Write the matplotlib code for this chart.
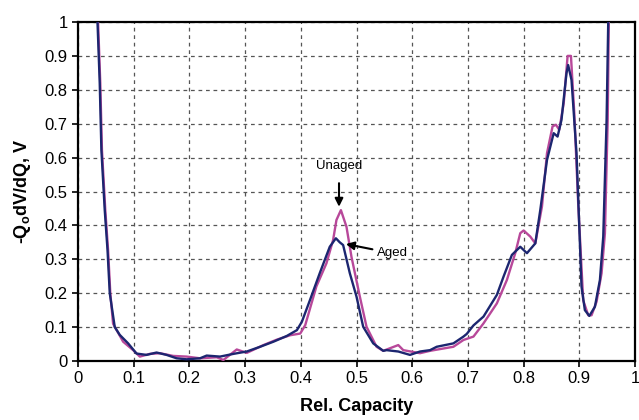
import numpy as np
import matplotlib
matplotlib.use("Agg")
import matplotlib.pyplot as plt

plt.rcParams['font.family'] = ['Liberation Sans', 'DejaVu Sans']
plt.rcParams['mathtext.default'] = 'regular'

# Aged cell (navy)
aged_x = [0.0350, 0.0390, 0.0420, 0.0480, 0.0530, 0.0570, 0.0660, 0.0750, 0.0900,
          0.1050, 0.1230, 0.1410, 0.1590, 0.1770, 0.1950, 0.2190, 0.2310, 0.2550,
          0.2790, 0.3030, 0.3270, 0.3510, 0.3750, 0.3930, 0.4020, 0.4165, 0.4340,
          0.4520, 0.4630, 0.4700, 0.4760, 0.4880, 0.5000, 0.5120, 0.5300, 0.5480,
          0.5540, 0.5750, 0.5960, 0.6140, 0.6320, 0.6440, 0.6620, 0.6740, 0.6920,
          0.6980, 0.7100, 0.7280, 0.7520, 0.7640, 0.7790, 0.7940, 0.8060, 0.8210,
          0.8300, 0.8420, 0.8540, 0.8610, 0.8680, 0.8770, 0.8800, 0.8860, 0.8950,
          0.9040, 0.9100, 0.9180, 0.9280, 0.9370, 0.9430, 0.9490, 0.9520]
aged_y = [1.000, 0.820, 0.622, 0.445, 0.327, 0.200, 0.100, 0.077, 0.052,
          0.022, 0.018, 0.025, 0.018, 0.008, 0.005, 0.008, 0.016, 0.013,
          0.021, 0.028, 0.042, 0.057, 0.074, 0.091, 0.116, 0.180, 0.259,
          0.337, 0.362, 0.350, 0.342, 0.259, 0.190, 0.101, 0.052, 0.030,
          0.032, 0.028, 0.018, 0.028, 0.032, 0.042, 0.048, 0.052, 0.072,
          0.080, 0.105, 0.131, 0.195, 0.249, 0.313, 0.337, 0.318, 0.347,
          0.446, 0.593, 0.672, 0.662, 0.711, 0.849, 0.873, 0.829, 0.613,
          0.219, 0.150, 0.133, 0.160, 0.239, 0.367, 0.711, 1.006]

# Unaged cell (magenta)
unaged_x = [0.0360, 0.0400, 0.0430, 0.0490, 0.0540, 0.0580, 0.0630, 0.0810, 0.0990,
            0.1110, 0.1290, 0.1470, 0.1710, 0.1950, 0.2190, 0.2490, 0.2610, 0.2850,
            0.3030, 0.3330, 0.3570, 0.3810, 0.3990, 0.4080, 0.4280, 0.4460, 0.4580,
            0.4640, 0.4720, 0.4820, 0.4910, 0.5060, 0.5180, 0.5360, 0.5480, 0.5750,
            0.5840, 0.6140, 0.6320, 0.6740, 0.6920, 0.7100, 0.7280, 0.7520, 0.7700,
            0.7850, 0.7940, 0.8000, 0.8120, 0.8210, 0.8330, 0.8420, 0.8520, 0.8580,
            0.8640, 0.8720, 0.8790, 0.8850, 0.8910, 0.8980, 0.9070, 0.9160, 0.9220,
            0.9310, 0.9400, 0.9460, 0.9510, 0.9530]
unaged_y = [1.000, 0.820, 0.622, 0.445, 0.327, 0.200, 0.110, 0.057, 0.032,
            0.013, 0.021, 0.023, 0.015, 0.013, 0.008, 0.011, 0.003, 0.034,
            0.024, 0.047, 0.063, 0.076, 0.081, 0.106, 0.220, 0.288, 0.357,
            0.416, 0.445, 0.396, 0.307, 0.190, 0.101, 0.042, 0.030, 0.047,
            0.032, 0.023, 0.030, 0.042, 0.062, 0.072, 0.111, 0.170, 0.239,
            0.318, 0.377, 0.385, 0.367, 0.347, 0.456, 0.613, 0.692, 0.697,
            0.682, 0.760, 0.900, 0.900, 0.731, 0.465, 0.179, 0.135, 0.135,
            0.175, 0.259, 0.377, 0.711, 1.006]

xticks = [0, 0.1, 0.2, 0.3, 0.4, 0.5, 0.6, 0.7, 0.8, 0.9, 1]
yticks = [0, 0.1, 0.2, 0.3, 0.4, 0.5, 0.6, 0.7, 0.8, 0.9, 1]
xtick_labels = ["0", "0.1", "0.2", "0.3", "0.4", "0.5", "0.6", "0.7", "0.8", "0.9", "1"]
ytick_labels = ["0", "0.1", "0.2", "0.3", "0.4", "0.5", "0.6", "0.7", "0.8", "0.9", "1"]

fig = plt.figure(figsize=(6.39, 4.2), dpi=100)
ax = fig.add_axes([78/639, 1 - 361/420, 557/639, 339/420])

ax.plot(unaged_x, unaged_y, color="#B8489A", lw=1.7, zorder=3)
ax.plot(aged_x, aged_y, color="#1C2670", lw=1.7, zorder=4)

ax.set_xlim(0, 1)
ax.set_ylim(0, 1)
ax.set_xticks(xticks)
ax.set_xticklabels(xtick_labels)
ax.set_yticks(yticks)
ax.set_yticklabels(ytick_labels)
ax.tick_params(direction="out", length=4, width=1.2, labelsize=12, colors="black")
ax.grid(True, color="#555555", linestyle=(0, (3, 3)), linewidth=0.9)
ax.set_axisbelow(True)
for s in ax.spines.values():
    s.set_linewidth(1.6)

ax.set_xlabel("Rel. Capacity", fontsize=13, fontweight="bold", labelpad=8)
ax.set_ylabel(r"-Q$_o$dV/dQ, V", fontsize=13, fontweight="bold", labelpad=8)

ax.annotate("Unaged", xy=(0.4686, 0.455), xytext=(0.4686, 0.575),
            ha="center", va="center", fontsize=9.5,
            arrowprops=dict(arrowstyle="-|>", color="black", lw=1.5,
                            mutation_scale=12, shrinkA=6, shrinkB=0))
ax.annotate("Aged", xy=(0.481, 0.345), xytext=(0.536, 0.318),
            ha="left", va="center", fontsize=9.5,
            arrowprops=dict(arrowstyle="-|>", color="black", lw=1.5,
                            mutation_scale=12, shrinkA=1, shrinkB=0))

fig.savefig("out.png", dpi=100)
